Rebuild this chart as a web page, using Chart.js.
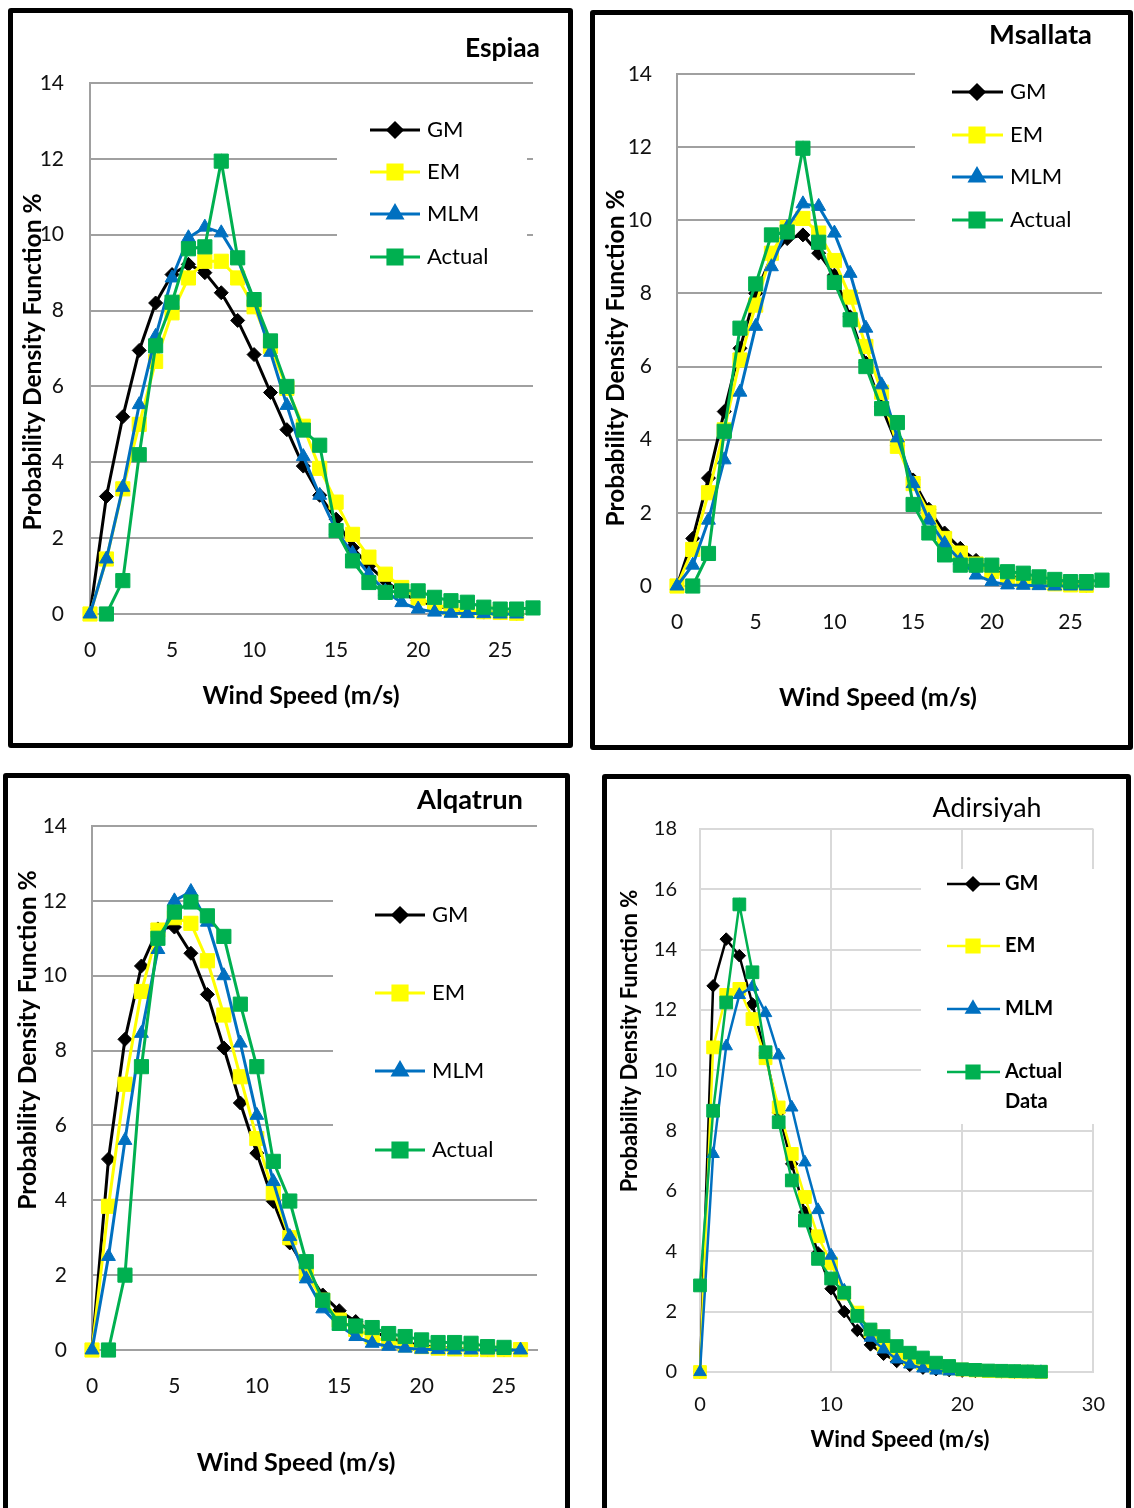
<!DOCTYPE html>
<html>
<head>
<meta charset="utf-8">
<script src="https://cdn.jsdelivr.net/npm/chart.js@4.4.1/dist/chart.umd.min.js"></script>
<style>
html, body { margin: 0; padding: 0; overflow: hidden; background: #fff; width: 1134px; height: 1508px; }
.panel { position: absolute; border: 5px solid #000; border-radius: 3px; box-sizing: border-box; background: #fff; }
.panel canvas { position: absolute; left: 0; top: 0; }
</style>
</head>
<body>
<div class="panel" style="left:8px;top:8px;width:565px;height:740px"><canvas id="c1" width="555" height="730"></canvas></div>
<div class="panel" style="left:590px;top:10px;width:543px;height:740px"><canvas id="c2" width="533" height="730"></canvas></div>
<div class="panel" style="left:3px;top:773px;width:567px;height:760px"><canvas id="c3" width="557" height="740"></canvas></div>
<div class="panel" style="left:602px;top:774px;width:529px;height:760px"><canvas id="c4" width="519" height="740"></canvas></div>
<script>
// wind speed classes (m/s)
const windSpeed = [0,1,2,3,4,5,6,7,8,9,10,11,12,13,14,15,16,17,18,19,20,21,22,23,24,25,26,27];
const seriesNames = ['GM', 'EM', 'MLM', 'Actual'];

// Espiaa
const espiaaGM = [0,3.1,5.2,6.95,8.2,8.95,9.22,9.0,8.47,7.74,6.84,5.84,4.86,3.9,3.13,2.5,1.75,1.27,0.88,0.55,0.35,0.22,0.14,0.08,0.05,0.03,0.02,null];
const espiaaEM = [0,1.45,3.3,5.0,6.66,7.94,8.86,9.3,9.3,8.86,8.1,7.05,5.95,4.95,3.84,2.95,2.1,1.5,1.05,0.7,0.42,0.25,0.15,0.1,0.06,0.04,0.02,null];
const espiaaMLM = [0,1.45,3.34,5.52,7.32,8.86,9.92,10.2,10.05,9.35,8.25,6.9,5.5,4.15,3.13,2.2,1.6,1.05,0.6,0.3,0.13,0.05,0.02,0.01,0.01,0,0,null];
const espiaaActual = [null,0,0.88,4.2,7.07,8.22,9.63,9.68,11.94,9.39,8.29,7.2,6.0,4.85,4.45,2.2,1.4,0.83,0.57,0.61,0.61,0.44,0.35,0.31,0.18,0.13,0.13,0.16];

// Msallata
const msallataGM = [0,1.3,2.95,4.77,6.5,8.0,9.0,9.5,9.6,9.1,8.5,7.36,6.1,4.9,3.85,2.9,2.1,1.45,1.03,0.7,0.45,0.3,0.18,0.11,0.07,0.04,0.02,null];
const msallataEM = [0,1.0,2.55,4.27,6.18,7.68,9.1,9.8,10.05,9.65,8.9,7.9,6.55,5.3,3.82,2.8,2.0,1.3,0.9,0.6,0.4,0.25,0.15,0.1,0.06,0.03,0.02,null];
const msallataMLM = [0,0.57,1.8,3.45,5.3,7.1,8.73,9.8,10.45,10.38,9.65,8.55,7.05,5.5,4.05,2.8,1.8,1.16,0.7,0.3,0.12,0.03,0.02,0.01,0,0,0,null];
const msallataActual = [null,0,0.89,4.23,7.05,8.26,9.6,9.68,11.97,9.4,8.3,7.28,6.0,4.85,4.47,2.23,1.45,0.85,0.57,0.57,0.57,0.39,0.35,0.25,0.18,0.12,0.12,0.16];

// Alqatrun
const alqatrunGM = [0,5.1,8.3,10.26,11.25,11.3,10.6,9.5,8.07,6.6,5.26,3.97,2.86,2.14,1.47,1.05,0.76,0.5,0.33,0.2,0.12,0.07,0.04,0.02,0.01,0.01,0,null];
const alqatrunEM = [0,3.84,7.1,9.58,11.22,11.55,11.4,10.4,8.95,7.3,5.65,4.2,3.0,2.05,1.33,0.8,0.55,0.35,0.22,0.14,0.09,0.05,0.03,0.02,0.01,0.01,0.01,null];
const alqatrunMLM = [0,2.5,5.6,8.46,10.7,12.0,12.25,11.43,10.0,8.2,6.27,4.5,3.03,1.9,1.1,0.65,0.36,0.18,0.1,0.05,0.02,0.01,0,0,0,0,0,null];
const alqatrunActual = [null,0,2.0,7.57,11.0,11.7,11.97,11.6,11.05,9.24,7.57,5.04,3.98,2.36,1.33,0.71,0.64,0.6,0.44,0.36,0.27,0.2,0.2,0.18,0.09,0.07,null,null];

// Adirsiyah
const adirsiyahGM = [0,12.8,14.35,13.8,12.2,10.5,8.6,6.9,5.3,3.95,2.76,2.0,1.38,0.9,0.59,0.35,0.22,0.13,0.08,0.05,0.03,0.02,0.01,0.01,0,0,0];
const adirsiyahEM = [0,10.76,12.5,12.7,11.7,10.4,8.77,7.23,5.8,4.5,3.6,2.6,1.97,1.35,0.9,0.62,0.42,0.28,0.18,0.12,0.08,0.05,0.03,0.02,0.01,0.01,0];
const adirsiyahMLM = [0,7.23,10.8,12.5,12.77,11.9,10.5,8.77,6.95,5.37,3.86,2.7,1.8,1.14,0.75,0.42,0.25,0.12,0.05,0.02,0.01,0,0,0,0,0,0];
const adirsiyahActual = [2.87,8.66,12.25,15.5,13.25,10.6,8.28,6.35,5.02,3.75,3.1,2.63,1.86,1.41,1.19,0.86,0.64,0.48,0.31,0.2,0.09,0.07,0.05,0.04,0.03,0.02,0.01];

const FONT = "Lato, 'Liberation Sans', sans-serif";
Chart.defaults.font.family = FONT;

const styles = [
  { color: '#000000', pointStyle: 'rectRot', r: 7, order: 4 },
  { color: '#FFFF00', pointStyle: 'rect', r: 10, order: 3 },
  { color: '#0070C0', pointStyle: 'triangle', r: 8, order: 2 },
  { color: '#00B050', pointStyle: 'rect', r: 10, order: 1 }
];

function fitFont(ctx, text, weight, w) {
  ctx.font = weight + ' 20px ' + FONT;
  const m = ctx.measureText(text).width;
  return weight + ' ' + (20 * w / m).toFixed(1) + 'px ' + FONT;
}

// titles, axis titles and the legend box inside the plot
const panelText = {
  id: 'panelText',
  beforeDatasetsDraw(chart, args, o) {
    const ctx = chart.ctx;
    const lg = o.legend;
    ctx.save();
    ctx.fillStyle = '#fff';
    ctx.fillRect(lg.box[0], lg.box[1], lg.box[2] - lg.box[0], lg.box[3] - lg.box[1]);
    chart.data.datasets.forEach((ds, i) => {
      const y = lg.rows[i];
      ctx.strokeStyle = ds.borderColor;
      ctx.lineWidth = lg.lineWidth;
      ctx.beginPath();
      ctx.moveTo(lg.line[0], y);
      ctx.lineTo(lg.line[1], y);
      ctx.stroke();
      ctx.fillStyle = ds.backgroundColor;
      Chart.helpers.drawPoint(ctx, { pointStyle: ds.pointStyle, radius: ds.pointRadius, rotation: 0, borderWidth: 1 }, lg.marker, y);
      ctx.fillStyle = '#000';
      ctx.font = lg.font + ' ' + FONT;
      ctx.textAlign = 'left';
      ctx.textBaseline = 'middle';
      ds.label.split('\n').forEach((t, k) => ctx.fillText(t, lg.text, y + k * lg.lineGap));
    });
    ctx.restore();
  },
  afterDraw(chart, args, o) {
    const ctx = chart.ctx;
    ctx.save();
    ctx.fillStyle = '#000';
    ctx.textBaseline = 'middle';
    const t = o.title;
    ctx.font = fitFont(ctx, t.text, t.weight, t.w);
    ctx.textAlign = t.align;
    ctx.fillText(t.text, t.x, t.y);
    const xt = o.xTitle;
    ctx.font = fitFont(ctx, xt.text, 'bold', xt.w);
    ctx.textAlign = 'center';
    ctx.fillText(xt.text, xt.x, xt.y);
    const yt = o.yTitle;
    ctx.font = fitFont(ctx, yt.text, 'bold', yt.w);
    ctx.translate(yt.x, yt.y);
    ctx.rotate(-Math.PI / 2);
    ctx.fillText(yt.text, 0, 0);
    ctx.restore();
  }
};

function makeChart(id, series, names, p) {
  const canvas = document.getElementById(id);
  const W = canvas.width, H = canvas.height;
  const datasets = series.map((vals, i) => ({
    label: names[i],
    data: vals,
    borderColor: styles[i].color,
    backgroundColor: styles[i].color,
    borderWidth: p.lineWidth,
    pointStyle: styles[i].pointStyle,
    pointRadius: styles[i].r * p.markScale,
    pointBorderWidth: 1,
    pointBorderColor: styles[i].color,
    pointBackgroundColor: styles[i].color,
    order: styles[i].order,
    tension: 0,
    clip: false
  }));
  return new Chart(canvas, {
    type: 'line',
    data: { labels: windSpeed, datasets: datasets },
    options: {
      responsive: false,
      animation: false,
      events: [],
      layout: { padding: { left: 0, top: p.area[1], right: W - p.area[2], bottom: 0 } },
      plugins: {
        legend: { display: false },
        title: { display: false },
        tooltip: { enabled: false },
        panelText: p
      },
      scales: {
        x: {
          type: 'linear', min: 0, max: p.xMax,
          afterFit: s => { s.height = H - p.area[3]; },
          grid: { display: p.xGrid, color: p.gridColor, lineWidth: 2, drawTicks: false },
          border: { display: true, color: p.gridColor, width: 2 },
          ticks: { stepSize: p.xStep, includeBounds: false, padding: p.xPad, color: '#111', font: { size: p.tickSize } }
        },
        y: {
          min: 0, max: p.yMax,
          afterFit: s => { s.width = p.area[0]; },
          grid: { color: p.gridColor, lineWidth: 2, drawTicks: false },
          border: { display: true, color: p.gridColor, width: 2 },
          ticks: { stepSize: 2, padding: p.yPad, color: '#111', font: { size: p.tickSize } }
        }
      }
    },
    plugins: [panelText]
  });
}

const yLabel = 'Probability Density Function %';
const xLabel = 'Wind Speed (m/s)';

makeChart('c1', [espiaaGM, espiaaEM, espiaaMLM, espiaaActual], seriesNames, {
  area: [77, 70, 520, 601], xMax: 27, yMax: 14, xStep: 5, xGrid: false, gridColor: '#a0a0a0',
  tickSize: 21, xPad: 24, yPad: 26, lineWidth: 3, markScale: 1,
  title: { text: 'Espiaa', weight: 'bold', w: 75, x: 527, y: 35, align: 'right' },
  xTitle: { text: xLabel, w: 197, x: 288, y: 683 },
  yTitle: { text: yLabel, w: 337, x: 20, y: 349 },
  legend: { box: [324, 87, 514, 267], line: [357, 407], marker: 382, text: 414, rows: [117, 159, 201, 244], font: '22px', lineWidth: 3, lineGap: 0 }
});

makeChart('c2', [msallataGM, msallataEM, msallataMLM, msallataActual], seriesNames, {
  area: [82, 59, 507, 571], xMax: 27, yMax: 14, xStep: 5, xGrid: false, gridColor: '#a0a0a0',
  tickSize: 21, xPad: 24, yPad: 25, lineWidth: 3, markScale: 1,
  title: { text: 'Msallata', weight: 'bold', w: 103, x: 497, y: 20, align: 'right' },
  xTitle: { text: xLabel, w: 198, x: 283, y: 683 },
  yTitle: { text: yLabel, w: 337, x: 21, y: 343 },
  legend: { box: [320, 45, 533, 225], line: [357, 408], marker: 382, text: 415, rows: [77, 120, 162, 205], font: '22px', lineWidth: 3, lineGap: 0 }
});

makeChart('c3', [alqatrunGM, alqatrunEM, alqatrunMLM, alqatrunActual], seriesNames, {
  area: [84, 48, 529, 572], xMax: 27, yMax: 14, xStep: 5, xGrid: false, gridColor: '#a0a0a0',
  tickSize: 21, xPad: 24, yPad: 25, lineWidth: 3, markScale: 1,
  title: { text: 'Alqatrun', weight: 'bold', w: 106, x: 515, y: 22, align: 'right' },
  xTitle: { text: xLabel, w: 199, x: 288, y: 685 },
  yTitle: { text: yLabel, w: 340, x: 20, y: 262 },
  legend: { box: [325, 92, 532, 402], line: [367, 417], marker: 392, text: 424, rows: [137, 215, 293, 372], font: '22px', lineWidth: 3, lineGap: 0 }
});

makeChart('c4', [adirsiyahGM, adirsiyahEM, adirsiyahMLM, adirsiyahActual], ['GM', 'EM', 'MLM', 'Actual\nData'], {
  area: [93, 50, 493, 593], xMax: 30, yMax: 18, xStep: 10, xGrid: true, gridColor: '#d9d9d9',
  tickSize: 20, xPad: 21, yPad: 23, lineWidth: 2.5, markScale: 0.9,
  title: { text: 'Adirsiyah', weight: 'normal', w: 109, x: 380, y: 29, align: 'center' },
  xTitle: { text: xLabel, w: 179, x: 293, y: 661 },
  yTitle: { text: yLabel, w: 303, x: 23, y: 262 },
  legend: { box: [314, 90, 488, 345], line: [340, 393], marker: 366, text: 398, rows: [105, 167, 230, 293], font: 'bold 20px', lineWidth: 2.5, lineGap: 30 }
});
</script>
</body>
</html>
